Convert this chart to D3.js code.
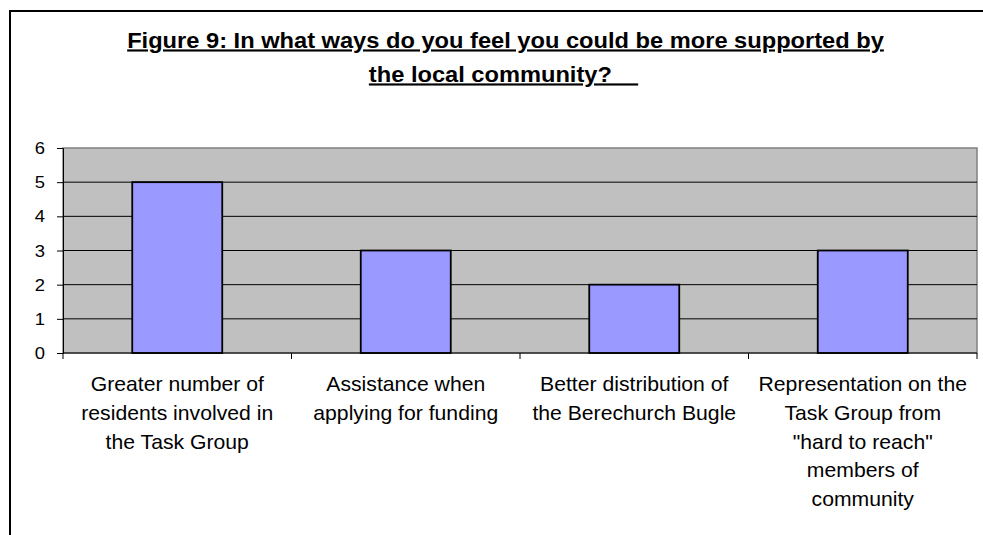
<!DOCTYPE html>
<html><head><meta charset="utf-8">
<script src="https://cdn.jsdelivr.net/npm/d3@7"></script>
<style>html,body{margin:0;padding:0;background:#fff;}svg{display:block;}</style>
</head><body>
<script>
const categories = [
  ["Greater number of", "residents involved in", "the Task Group"],
  ["Assistance when", "applying for funding"],
  ["Better distribution of", "the Berechurch Bugle"],
  ["Representation on the", "Task Group from", "\"hard to reach\"", "members of", "community"]
];
const values = [5, 3, 2, 3];
const yTicks = [0, 1, 2, 3, 4, 5, 6];
const titleLines = ["Figure 9: In what ways do you feel you could be more supported by", "the local community?\u00a0\u00a0\u00a0\u00a0"];

(function () {
const W = 983, H = 535;
const svg = d3.select("body").append("svg").attr("width", W).attr("height", H);
const font = "Arial, 'Liberation Sans', sans-serif";

// outer frame
svg.append("rect").attr("x", 10).attr("y", 11).attr("width", 1100).attr("height", 700)
  .attr("fill", "none").attr("stroke", "#000").attr("stroke-width", 2);

// title (slightly stretched horizontally like the source rendering)
const tSx = 1.1;
[[titleLines[0], 505.5, 47.5], [titleLines[1], 503.5, 81.5]].forEach(([txt, cx, by]) => {
  svg.append("text").attr("transform", `translate(${cx},${by}) scale(${tSx},1)`)
    .attr("text-anchor", "middle")
    .attr("font-family", font).attr("font-weight", "bold").attr("font-size", 21.5)
    .attr("text-decoration", "underline").style("white-space", "pre").text(txt);
});

const pL = 63, pR = 977, pT = 148, pB = 353;
const x = d3.scaleBand().domain(d3.range(categories.length)).range([pL, pR]).paddingInner(0).paddingOuter(0);
const y = d3.scaleLinear().domain([0, 6]).range([pB, pT]);

// plot bg
svg.append("rect").attr("x", pL).attr("y", pT).attr("width", pR - pL).attr("height", pB - pT)
  .attr("fill", "#C0C0C0").attr("stroke", "#808080").attr("stroke-width", 1.5);

// gridlines
svg.append("g").selectAll("line").data(yTicks.filter(d => d > 0 && d < 6)).join("line")
  .attr("x1", pL).attr("x2", pR).attr("y1", d => y(d)).attr("y2", d => y(d))
  .attr("stroke", "#000").attr("stroke-width", 1);

// bars
const bw = 90;
svg.append("g").selectAll("rect").data(values).join("rect")
  .attr("x", (d, i) => x(i) + x.bandwidth() / 2 - bw / 2)
  .attr("y", d => y(d)).attr("width", bw).attr("height", d => y(0) - y(d))
  .attr("fill", "#9999FF").attr("stroke", "#000").attr("stroke-width", 1.8);

// y axis
const yAxis = d3.axisLeft(y).tickValues(yTicks).tickSize(6).tickPadding(0).tickFormat(d3.format("d"));
const gy = svg.append("g").attr("transform", `translate(${pL},0)`).call(yAxis);
gy.select(".domain").attr("stroke", "#000");
gy.selectAll(".tick line").attr("stroke", "#000");
gy.selectAll("text").attr("font-family", font).attr("font-size", 16).attr("fill", "#000")
  .attr("x", null).attr("dy", null).attr("dominant-baseline", "central")
  .attr("transform", "translate(-18,0) scale(1.15,1)");

// x axis line + ticks at boundaries
svg.append("line").attr("x1", pL).attr("x2", pR).attr("y1", pB).attr("y2", pB)
  .attr("stroke", "#000").attr("stroke-width", 1);
const bounds = d3.range(categories.length + 1).map(i => i < categories.length ? x(i) : pR);
svg.append("g").selectAll("line").data(bounds).join("line")
  .attr("x1", d => d).attr("x2", d => d).attr("y1", pB).attr("y2", pB + 6)
  .attr("stroke", "#000");

// x labels
const lab = svg.append("g");
categories.forEach((lines, i) => {
  const cx = x(i) + x.bandwidth() / 2;
  lines.forEach((ln, j) => {
    lab.append("text").attr("text-anchor", "middle")
      .attr("transform", `translate(${cx},${391 + j * 28.8}) scale(1.06,1)`)
      .attr("font-family", font).attr("font-size", 20).attr("fill", "#000").text(ln);
  });
});
})();
</script>
</body></html>
